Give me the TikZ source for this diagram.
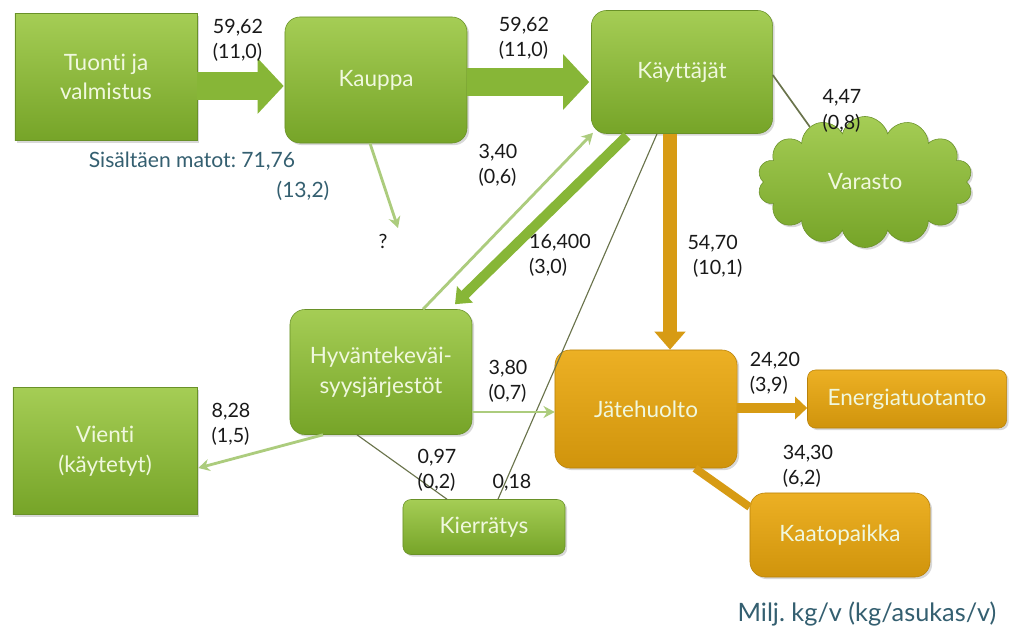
\documentclass[tikz,border=0pt]{standalone}
\usepackage{fontspec}
\setmainfont{Lato}[Ligatures=NoCommon]
\usetikzlibrary{arrows.meta,calc,shapes.symbols,shadows}
\definecolor{flowgreen}{RGB}{135,182,55}
\definecolor{greentop}{RGB}{165,205,85}
\definecolor{greenbot}{RGB}{118,164,40}
\definecolor{greenedge}{RGB}{105,145,40}
\definecolor{orangetop}{RGB}{236,176,36}
\definecolor{orangebot}{RGB}{208,148,12}
\definecolor{orangeedge}{RGB}{185,130,10}
\definecolor{floworange}{RGB}{215,155,20}
\definecolor{lightflow}{RGB}{172,204,125}
\definecolor{lineolive}{RGB}{105,115,75}
\definecolor{boxtext}{RGB}{240,248,222}
\definecolor{tealtext}{RGB}{52,95,112}
\frenchspacing

\begin{document}
\begin{tikzpicture}[x=0.025cm, y=-0.025cm,
    box/.style={draw=greenedge, top color=greentop, bottom color=greenbot, text=boxtext,
      align=center, inner sep=0pt, font=\fontsize{16}{21}\selectfont,
      drop shadow={opacity=0.3, shadow xshift=1.5pt, shadow yshift=-1.5pt}},
    roundbox/.style={box, rounded corners=0.375cm},
    wastebox/.style={roundbox, draw=orangeedge, top color=orangetop, bottom color=orangebot},
    num/.style={align=left, inner sep=0pt, text=black!90, font=\fontsize{14}{18}\selectfont},
    note/.style={inner sep=0pt, text=tealtext, font=\fontsize{15}{18}\selectfont},
    bigflow/.style={draw=flowgreen, line width=0.7cm, -{Triangle[length=0.65cm, width=1.35cm]}},
    midflow/.style={draw=flowgreen, line width=0.25cm, -{Triangle[length=0.35cm, width=0.55cm]}},
    thinflow/.style={draw=lightflow, line width=2pt, -{Stealth[length=0.28cm, width=0.3cm]}},
    thinline/.style={draw=lineolive, line width=0.8pt}]
  \fill[white] (0,0) rectangle (1011,637);
  \useasboundingbox (0,0) rectangle (1011,637);

  \node[box, minimum width=4.55cm, minimum height=3.175cm] (tuonti) at (106,77) {Tuonti ja\\valmistus};
  \node[roundbox, minimum width=4.55cm, minimum height=3.15cm] (kauppa) at (376,80) {Kauppa};
  \node[roundbox, minimum width=4.525cm, minimum height=3.075cm] (kaytt) at (682,72) {Käyttäjät};
  \node[box, cloud, cloud puffs=14, cloud ignores aspect, minimum width=5.375cm,
    minimum height=3.275cm] (varasto) at (865,182) {Varasto};
  \node[roundbox, minimum width=4.55cm, minimum height=3.125cm] (hyva) at (381,372) {Hyväntekeväi-\\syysjärjestöt};
  \node[box, minimum width=4.6cm, minimum height=3.175cm] (vienti) at (105,451) {Vienti\\(käytetyt)};
  \node[roundbox, rounded corners=0.2cm, minimum width=4.05cm, minimum height=1.375cm] (kierr) at (484,527) {Kierrätys};
  \node[wastebox, minimum width=4.55cm, minimum height=2.95cm] (jate) at (646,409) {Jätehuolto};
  \node[wastebox, rounded corners=0.2cm, minimum width=4.975cm, minimum height=1.45cm] (energia) at (907,399) {Energiatuotanto};
  \node[wastebox, minimum width=4.5cm, minimum height=2.1cm] (kaato) at (840,535) {Kaatopaikka};
  \coordinate (kysymys) at (398,228);

  \draw[bigflow] ($(tuonti.east)+(0,9)$) -- ($(kauppa.west)+(-1,6)$);
  \draw[bigflow] ($(kauppa.east)+(0,2)$) -- ($(kaytt.west)+(-2,10)$);
  \draw[floworange, line width=0.35cm, -{Triangle[length=0.45cm, width=0.75cm]}]
    ($(kaytt.south)+(-12,0)$) -- ($(jate.north)+(24,0)$);
  \draw[floworange, line width=0.25cm, -{Triangle[length=0.3cm, width=0.55cm]}]
    ($(jate.east)+(0,-1)$) -- ($(energia.west)+(0,9)$);
  \draw[floworange, line width=0.2cm] ($(jate.south)+(49,0)$) -- ($(kaato.west)+(0,-28)$);
  \draw[midflow] ($(kaytt.south)+(-55,2)$) -- ($(hyva.north)+(74,-5)$);
  \draw[thinflow] ($(hyva.north)+(42,0)$) -- ($(kaytt.south)+(-89,-1)$);
  \draw[thinline] ($(kaytt.south)+(-25,0)$) -- ($(kierr.north)+(14,0)$);
  \draw[thinline, line width=1.2pt] ($(kaytt.east)+(0,3)$) -- (varasto.135);
  \draw[thinflow] ($(kauppa.south)+(-6,0)$) -- (kysymys);
  \draw[thinflow] ($(hyva.south)+(-58,0)$) -- ($(vienti.east)+(1,17)$);
  \draw[thinflow] ($(hyva.east)+(0,40)$) -- ($(jate.west)+(0,3)$);
  \draw[thinline] ($(hyva.south)+(-24,0)$) -- ($(kierr.north)+(-37,0)$);

  \node[num] (l1) at (238,40) {59,62\\(11,0)};
  \node[num] (l2) at (524,38) {59,62\\(11,0)};
  \node[note] (l3) at (192,161) {Sisältäen matot: 71,76};
  \node[note] (l4) at (303,191) {(13,2)};
  \node[num] (lq) at (383,241) {?};
  \node[num] (l5) at (498,165) {3,40\\(0,6)};
  \node[num] (l6) at (560,255) {16,400\\(3,0)};
  \node[num] (l7) at (715,256) {54,70\\\hspace*{4pt}(10,1)};
  \node[num] (l8) at (842,111) {4,47\\(0,8)};
  \node[num] (l9) at (508,381) {3,80\\(0,7)};
  \node[num] (l10) at (231,424) {8,28\\(1,5)};
  \node[num] (l11) at (437,470) {0,97\\(0,2)};
  \node[num] (l12) at (512,483) {0,18};
  \node[num] (l13) at (775,373) {24,20\\(3,9)};
  \node[num] (l14) at (808,466) {34,30\\(6,2)};
  \node[note, font=\fontsize{18}{22}\selectfont] (yksikko) at (867,614) {Milj. kg/v (kg/asukas/v)};
\end{tikzpicture}
\end{document}
